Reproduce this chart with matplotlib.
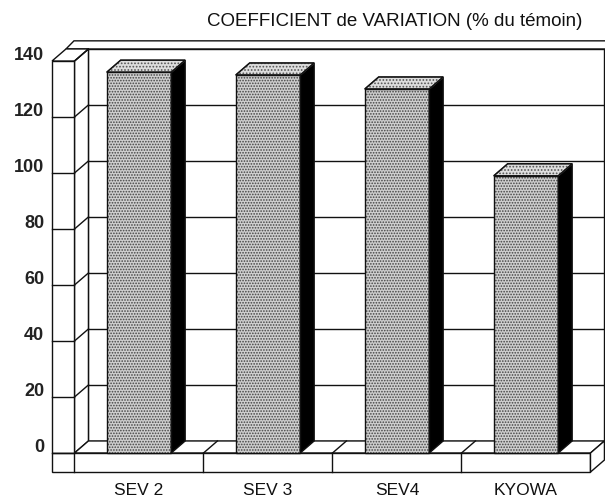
import matplotlib
matplotlib.use("Agg")
import matplotlib.pyplot as plt
from matplotlib.patches import Polygon

plt.rcParams['font.family'] = ['Liberation Sans', 'DejaVu Sans']

# data
categories = ["SEV 2", "SEV 3", "SEV4", "KYOWA"]
values = [136, 135, 130, 99]
yticks = [0, 20, 40, 60, 80, 100, 120, 140]
title = "COEFFICIENT de VARIATION (% du témoin)"

# pseudo 3d geometry (category units / value units)
W = 0.5          # bar width
DX, DY = 0.108, 4.3     # depth offset
DX2, DY2 = 0.062, 2.9   # wall thickness at top
T = 0.174        # left wall thickness
BASE = 6.8       # base slab height
YMAX = yticks[-1]
n = len(categories)
x0, x1 = -0.5, n - 0.5

fig = plt.figure(figsize=(6.05, 5.02), dpi=100)
ax = fig.add_axes([0, 0, 1, 1])
ax.set_xlim(-139 / 129, (605 - 139) / 129)
ax.set_ylim(-48 / 2.8, 454 / 2.8)
ax.axis("off")

lw = 1.0
ink = "#111111"
plt.rcParams['hatch.linewidth'] = 0.8

def poly(pts, fc="white", z=1, ec=ink, **kw):
    ax.add_patch(Polygon(pts, closed=True, fc=fc, ec=ec, lw=lw, zorder=z, **kw))

# back wall
poly([(x0 + DX, DY), (x1 + DX, DY), (x1 + DX, YMAX + DY), (x0 + DX, YMAX + DY)], z=1)
# top of walls
poly([(x0 - T + DX, YMAX + DY), (x0 - T + DX + DX2, YMAX + DY + DY2),
      (x1 + DX + 0.05, YMAX + DY + DY2), (x1 + DX + 0.05, YMAX + DY)], z=1)
# left wall inner side
poly([(x0, 0), (x0 + DX, DY), (x0 + DX, YMAX + DY), (x0, YMAX)], z=2)
# left wall front face
poly([(x0 - T, 0), (x0, 0), (x0, YMAX), (x0 - T, YMAX)], z=2)
# left wall top
poly([(x0 - T, YMAX), (x0, YMAX), (x0 + DX, YMAX + DY), (x0 - T + DX, YMAX + DY)], z=2)

# gridlines
for v in yticks[1:-1]:
    ax.plot([x0 + DX, x1 + DX], [v + DY, v + DY], color=ink, lw=lw, zorder=1.5)
for v in yticks[1:]:
    ax.plot([x0, x0 + DX], [v, v + DY], color=ink, lw=lw, zorder=2.5)
for v in yticks[:-1]:
    ax.plot([x0 - T, x0], [v, v], color=ink, lw=lw, zorder=2.5)

# floor
poly([(x0, 0), (x1, 0), (x1 + DX, DY), (x0 + DX, DY)], z=2)
for k in range(1, n):
    ax.plot([x0 + k, x0 + k + DX], [0, DY], color=ink, lw=lw, zorder=2.5)
# base slab
poly([(x0 - T, -BASE), (x1, -BASE), (x1, 0), (x0 - T, 0)], z=2)
poly([(x1, -BASE), (x1 + DX, -BASE + DY), (x1 + DX, DY), (x1, 0)], z=2)
for k in range(0, n):
    ax.plot([x0 + k, x0 + k], [-BASE, 0], color=ink, lw=lw, zorder=2.5)

# bars: stippled fill, then outline
ax.bar(range(n), values, width=W, color="#cfcfcf", edgecolor="#444444",
       hatch="......", lw=0, zorder=3)
ax.bar(range(n), values, width=W, fill=False, edgecolor=ink, lw=lw, zorder=3.2)
for i, v in enumerate(values):
    r = i + W / 2
    l = i - W / 2
    poly([(r, 0), (r + DX, DY), (r + DX, v + DY), (r, v)], fc="black", z=3)
    top = [(l, v), (r, v), (r + DX, v + DY), (l + DX, v + DY)]
    poly(top, fc="#dddddd", ec="#555555", z=3, hatch=".....")
    poly(top, fc="none", z=3.2)

# labels
for v in yticks:
    ax.text(x0 - T - 0.06, v + 2.2, str(v), ha="right", va="center", fontsize=13,
            fontweight="bold", color="#222222")
for i, c in enumerate(categories):
    ax.text(i, -13, c, ha="center", va="center", fontsize=12.5, color=ink)
ax.text((395 - 139) / 129, (454 - 22) / 2.8, title, ha="center", va="center",
        fontsize=13.5, color=ink)

fig.savefig("out.png", dpi=100)
